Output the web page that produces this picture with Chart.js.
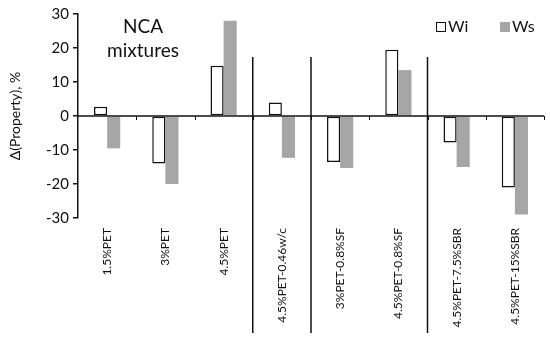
<!DOCTYPE html>
<html>
<head>
<meta charset="utf-8">
<script src="https://cdn.jsdelivr.net/npm/chart.js@4/dist/chart.umd.min.js"></script>
<style>
  html, body { margin: 0; padding: 0; background: #fff; }
  #wrap { width: 550px; height: 338px; }
</style>
</head>
<body>
<div id="wrap"><canvas id="chart"></canvas></div>
<script>
// categorias e valores
var categorias = ['1.5%PET', '3%PET', '4.5%PET', '4.5%PET-0.46w/c', '3%PET-0.8%SF', '4.5%PET-0.8%SF', '4.5%PET-7.5%SBR', '4.5%PET-15%SBR'];
var valoresWi = [2.7, -14, 14.8, 4, -13.5, 19.5, -7.8, -21];
var valoresWs = [-9.5, -20, 28, -12.3, -15.3, 13.5, -15, -29];
var separadores = [2, 3, 5]; // linha vertical depois destes índices
var FONTE = 'Lato, "Open Sans", sans-serif';

// plugin que desenha linha do zero, separadores, título e legenda
var extras = {
    id: 'extras',
    afterDatasetsDraw: function (chart) {
        var c = chart.ctx, x = chart.scales.x, y = chart.scales.y;
        var y0 = y.getPixelForValue(0);
        var passo = x.getPixelForValue(1) - x.getPixelForValue(0);
        c.save();
        c.strokeStyle = '#111';
        c.lineWidth = 1.5;
        c.beginPath();
        c.moveTo(x.left, y0);
        c.lineTo(x.right, y0);
        c.stroke();
        // marcas pequenas entre categorias
        c.lineWidth = 1;
        for (var i = 0; i < categorias.length; i++) {
            var xm = Math.round(x.getPixelForValue(i) + passo / 2) + 0.5;
            c.beginPath();
            c.moveTo(xm, y0);
            c.lineTo(xm, y0 + 4);
            c.stroke();
        }
        // separadores
        c.lineWidth = 1.5;
        separadores.forEach(function (i) {
            var xs = x.getPixelForValue(i) + passo / 2;
            c.beginPath();
            c.moveTo(xs, 57);
            c.lineTo(xs, 333);
            c.stroke();
        });
        // título
        c.fillStyle = '#111';
        c.font = '19px ' + FONTE;
        c.textAlign = 'center';
        c.textBaseline = 'middle';
        c.fillText('NCA', 143, 27);
        c.fillText('mixtures', 143, 51);
        // legenda
        c.font = '16px ' + FONTE;
        c.textAlign = 'left';
        c.fillStyle = '#fff';
        c.strokeStyle = '#111';
        c.lineWidth = 1;
        c.fillRect(436.5, 22.5, 9, 9);
        c.strokeRect(436.5, 22.5, 9, 9);
        c.fillStyle = '#111';
        c.fillText('Wi', 448, 27);
        c.fillStyle = '#a6a6a6';
        c.fillRect(500, 22, 10, 10);
        c.fillStyle = '#111';
        c.fillText('Ws', 512, 27);
        c.restore();
    }
};

var ctx = document.getElementById('chart').getContext('2d');
var chart = new Chart(ctx, {
    type: 'bar',
    data: {
        labels: categorias,
        datasets: [{
            label: 'Wi',
            data: valoresWi,
            backgroundColor: '#ffffff',
            borderColor: '#111111',
            borderWidth: 1.5,
            borderSkipped: false
        }, {
            label: 'Ws',
            data: valoresWs,
            backgroundColor: '#a6a6a6',
            borderWidth: 0
        }]
    },
    options: {
        responsive: true,
        maintainAspectRatio: false,
        animation: false,
        layout: { padding: { left: 7, right: 6, top: 14, bottom: 0 } },
        plugins: { legend: { display: false }, tooltip: { enabled: false } },
        datasets: { bar: { categoryPercentage: 0.45, barPercentage: 1 } },
        scales: {
            x: {
                grid: { display: false, drawTicks: false },
                border: { display: false },
                ticks: {
                    color: '#111',
                    font: { family: FONTE, size: 12 },
                    minRotation: 90,
                    maxRotation: 90,
                    padding: 10,
                    autoSkip: false
                },
                afterFit: function (s) { s.height = 120; }
            },
            y: {
                min: -30,
                max: 30,
                grid: { drawOnChartArea: false, tickLength: 5, color: '#111', lineWidth: 1.5 },
                border: { color: '#111', width: 1.5 },
                ticks: {
                    stepSize: 5,
                    color: '#111',
                    font: { family: FONTE, size: 15 },
                    padding: 4,
                    callback: function (v) { return v % 10 === 0 ? v : ''; }
                },
                title: {
                    display: true,
                    text: 'Δ(Property), %',
                    color: '#111',
                    font: { family: FONTE, size: 14 },
                    padding: { top: 0, bottom: 4 }
                },
                afterFit: function (s) { s.width = 71; }
            }
        }
    },
    plugins: [extras]
});
</script>
</body>
</html>
